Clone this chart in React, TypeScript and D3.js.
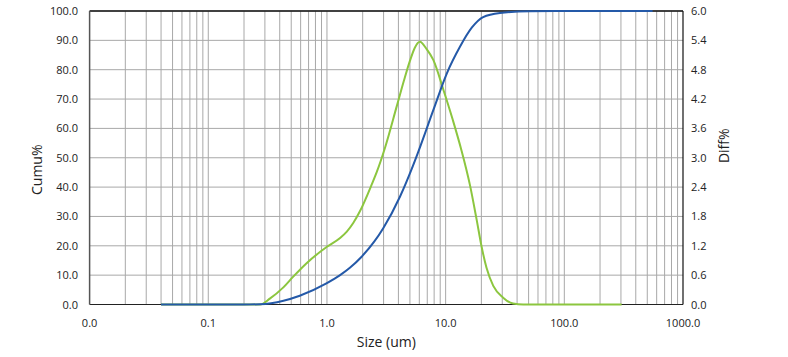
import React from "react";
import * as d3 from "d3";

const cumuSizes = [0.04, 0.2, 0.273, 0.43, 0.59, 0.99, 1.29, 1.56, 1.95, 2.5, 2.98, 4.12, 5.17, 5.88, 7.87, 10.2, 13.2, 16.6, 20.7, 28.7, 51, 100, 554];
const cumuValues = [0, 0, 0.1, 1.3, 3.0, 7.2, 10.0, 12.5, 16.2, 21.4, 26.0, 36.7, 46.1, 52.0, 66.2, 78.6, 87.8, 94.3, 97.9, 99.3, 99.9, 100, 100];

const diffSizes = [0.04, 0.2, 0.273, 0.33, 0.429, 0.52, 0.67, 1.0, 1.29, 1.47, 1.67, 1.89, 2.38, 2.62, 3.08, 3.87, 4.48, 5.0, 5.5, 6.07, 6.92, 7.87, 9.6, 11.5, 13.6, 16.0, 18.2, 20.1, 22.1, 25.2, 30.5, 37, 45, 304];
const diffValues = [0, 0, 0, 0.12, 0.35, 0.57, 0.84, 1.18, 1.36, 1.49, 1.67, 1.9, 2.45, 2.7, 3.2, 4.05, 4.6, 4.98, 5.25, 5.37, 5.22, 5.0, 4.38, 3.77, 3.15, 2.45, 1.75, 1.18, 0.75, 0.38, 0.14, 0.02, 0, 0];

const xTicks = [0.01, 0.1, 1, 10, 100, 1000];
const xTickLabels = ["0.0", "0.1", "1.0", "10.0", "100.0", "1000.0"];
const leftTicks = [0, 10, 20, 30, 40, 50, 60, 70, 80, 90, 100];
const rightTicks = [0, 0.6, 1.2, 1.8, 2.4, 3.0, 3.6, 4.2, 4.8, 5.4, 6.0];

const W = 788, H = 357;
const L = 89.6, R = 683, T = 11, B = 304.5;
const FONT = "'Open Sans', 'Liberation Sans', sans-serif";

export default function App() {
  const x = d3.scaleLog().domain([0.01, 1000]).range([L, R]);
  const yL = d3.scaleLinear().domain([0, 100]).range([B, T]);
  const yR = d3.scaleLinear().domain([0, 6]).range([B, T]);

  const minor: number[] = [];
  for (let e = -2; e < 3; e++) {
    for (let k = 1; k <= 9; k++) {
      const v = k * Math.pow(10, e);
      if (v > 0.01) minor.push(v);
    }
  }

  const cumuData = cumuSizes.map((s, i) => [s, cumuValues[i]] as [number, number]);
  const diffData = diffSizes.map((s, i) => [s, diffValues[i]] as [number, number]);

  const cumuLine = d3.line<[number, number]>().x(d => x(d[0])).y(d => yL(d[1])).curve(d3.curveMonotoneX);
  const diffLine = d3.line<[number, number]>().x(d => x(d[0])).y(d => yR(d[1])).curve(d3.curveMonotoneX);

  return (
    <svg width={W} height={H} style={{ position: "absolute", left: 0, top: 0, background: "#fff" }} fontFamily={FONT}>
      <rect x={0} y={0} width={W} height={H} fill="#fff" />
      {minor.map((v, i) => (
        <line key={"v" + i} x1={x(v)} x2={x(v)} y1={T} y2={B} stroke="#a8a8a8" strokeWidth={1} />
      ))}
      {leftTicks.slice(1).map((v, i) => (
        <line key={"h" + i} x1={L} x2={R} y1={yL(v)} y2={yL(v)} stroke="#a8a8a8" strokeWidth={1} />
      ))}
      <line x1={L} x2={R} y1={T} y2={T} stroke="#111" strokeWidth={1.5} />
      <line x1={L} x2={R} y1={B} y2={B} stroke="#222" strokeWidth={1.2} />
      <line x1={L} x2={L} y1={T} y2={B} stroke="#555" strokeWidth={1.5} />
      <line x1={R} x2={R} y1={T} y2={B} stroke="#111" strokeWidth={1.2} />

      <path d={diffLine(diffData) || ""} fill="none" stroke="#8cc63f" strokeWidth={2} />
      <path d={cumuLine(cumuData) || ""} fill="none" stroke="#2459a8" strokeWidth={2} />

      {leftTicks.map((v, i) => (
        <text key={"lt" + i} x={78} y={yL(v) + 4} textAnchor="end" fontSize={11} fill="#222">{v.toFixed(1)}</text>
      ))}
      {rightTicks.map((v, i) => (
        <text key={"rt" + i} x={691} y={yR(v) + 4} textAnchor="start" fontSize={11} fill="#222">{v.toFixed(1)}</text>
      ))}
      {xTicks.map((v, i) => (
        <text key={"xt" + i} x={x(v)} y={327} textAnchor="middle" fontSize={11} fill="#222">{xTickLabels[i]}</text>
      ))}
      <text x={(L + R) / 2} y={347} textAnchor="middle" fontSize={14} fill="#222">Size (um)</text>
      <text transform={`translate(42,${(T + B) / 2 + 12}) rotate(-90)`} textAnchor="middle" fontSize={14} fill="#222">Cumu%</text>
      <text transform={`translate(729,${(T + B) / 2 - 12}) rotate(-90)`} textAnchor="middle" fontSize={14} fill="#222">Diff%</text>
    </svg>
  );
}
